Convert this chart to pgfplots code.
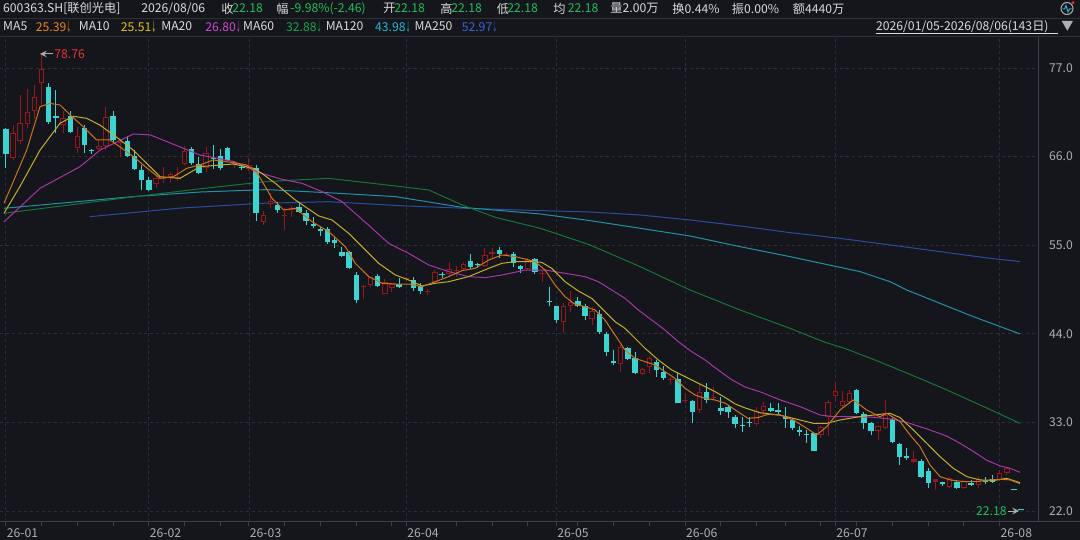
\documentclass[border=0pt]{standalone}
\usepackage{pgfplots}
\pgfplotsset{compat=1.18}
\usepackage{pgfplotstable}
\usepackage{fontspec}
\setmainfont{Noto Sans CJK SC}
\definecolor{bg}{RGB}{20,22,27}
\definecolor{upc}{RGB}{150,24,28}
\definecolor{dnc}{RGB}{60,212,208}
\definecolor{gridc}{RGB}{44,47,55}
\definecolor{axc}{RGB}{62,65,72}
\definecolor{lblc}{RGB}{172,174,178}
\definecolor{txt}{RGB}{218,218,218}
\definecolor{grn}{RGB}{35,190,90}
\definecolor{redt}{RGB}{230,50,50}
\definecolor{ma5}{RGB}{205,115,30}
\definecolor{ma10}{RGB}{195,175,45}
\definecolor{ma20}{RGB}{165,55,165}
\definecolor{ma60}{RGB}{25,115,55}
\definecolor{ma120}{RGB}{35,145,165}
\definecolor{ma250}{RGB}{45,75,160}
\definecolor{ma5t}{RGB}{240,130,30}
\definecolor{ma10t}{RGB}{225,195,30}
\definecolor{ma20t}{RGB}{210,70,210}
\definecolor{ma60t}{RGB}{20,165,80}
\definecolor{ma120t}{RGB}{40,180,210}
\definecolor{ma250t}{RGB}{60,100,215}
\newcommand\hf{\fontsize{6.1pt}{7pt}\selectfont}
\newcommand\dar{\scalebox{0.42}[1]{↓}}

\pgfplotstableread{
i o h l c
1 65.78 69.9 65.6 68.89
2 67.94 73.65 67.6 70.13
3 70.05 74.35 69.5 71.58
4 71.66 74.9 70.63 73.36
5 75.10 78.76 72.4 76.88
8 69.9 71.6 68.9 70.75
10 67.03 69.7 66.4 68.6
13 66.9 68.07 66.8 67.3
14 67.3 72.2 66.8 70.96
16 67.65 68.06 66.0 67.85
21 62.6 63.7 62.1 63.3
22 63.2 64.75 62.7 63.4
23 63.5 64.1 62.7 63.85
24 63.2 64.75 63.0 63.5
25 65.08 67.32 65.0 66.7
28 64.54 67.2 64.1 66.4
32 65.1 65.5 64.6 65.2
34 64.45 65.8 64.2 64.95
36 57.9 59.2 57.5 58.8
37 60.12 61.44 59.58 60.53
39 58.6 59.6 56.9 58.7
40 59.4 59.9 58.5 59.58
50 49.85 50.0 48.3 49.95
51 50.06 51.1 49.8 51.0
53 48.94 50.8 48.9 50.47
54 49.65 50.27 49.2 50.18
56 50.85 51.1 50.7 50.98
59 49.2 49.6 48.8 49.3
60 50.47 51.9 50.4 51.72
62 51.4 52.96 51.2 52.0
63 51.8 52.4 51.1 51.9
64 52.0 52.96 51.8 52.63
67 52.42 54.7 52.3 53.79
68 53.9 54.6 53.4 54.2
70 53.7 54.0 53.6 53.9
73 52.1 53.4 51.9 53.17
75 51.38 51.8 50.47 51.45
78 45.43 47.8 44.06 47.45
79 47.5 49.3 46.7 47.9
82 45.84 47.37 45.1 46.83
86 40.25 42.6 39.2 42.32
89 38.97 39.7 38.9 39.59
90 39.84 41.3 39.1 40.95
93 38.3 38.68 37.6 38.4
95 35.6 36.6 35.4 35.7
97 34.54 37.65 34.13 36.82
99 36.0 37.4 35.6 36.1
105 32.8 34.87 32.56 34.46
106 34.46 35.58 33.92 35.08
114 31.44 32.5 31.1 32.39
115 33.72 35.78 31.31 35.58
116 36.32 38.06 35.58 36.94
117 35.08 36.94 34.9 35.62
118 35.58 37.0 35.3 36.61
122 31.98 32.6 30.82 32.56
123 32.27 35.78 32.2 33.92
127 28.13 29.5 28.0 28.46
130 25.65 26.0 24.6 25.93
132 25.03 26.2 24.9 26.06
134 24.82 25.86 24.7 25.77
136 25.24 26.19 24.82 25.94
139 25.86 27.1 25.7 26.77
140 26.68 27.5 26.5 27.35
}\up

\pgfplotstableread{
i o h l c
0 69.39 69.6 64.55 66.32
6 74.6 75.1 70.1 70.34
7 71.0 74.27 68.9 70.8
9 71.04 71.6 68.9 69.01
11 69.5 69.9 66.4 67.44
12 66.8 67.0 66.3 66.7
15 71.04 71.7 67.85 68.06
17 67.94 68.5 65.9 66.08
18 66.08 66.8 64.3 64.42
19 64.34 64.96 61.9 63.1
20 63.1 63.5 61.7 61.9
26 66.9 67.15 65.0 65.17
27 65.08 66.0 63.8 63.92
29 65.8 67.4 64.4 65.7
30 66.08 67.0 64.3 64.55
31 67.1 67.2 65.4 65.6
33 64.65 65.0 64.3 64.6
35 64.55 64.95 58.0 59.04
38 60.0 60.4 59.0 59.4
41 59.7 60.2 59.0 59.17
42 58.96 59.4 57.5 58.0
43 57.6 58.5 57.1 57.4
44 57.0 57.2 56.1 56.7
45 57.0 57.2 55.2 55.35
46 55.6 56.06 54.6 55.3
47 54.2 54.8 53.5 53.66
48 54.2 54.3 52.1 52.21
49 51.3 51.7 47.87 48.2
52 51.18 51.4 49.8 49.97
55 50.18 50.9 49.7 49.85
57 50.68 51.1 49.35 49.65
58 49.98 50.27 49.0 49.3
61 51.35 51.7 50.9 51.25
65 53.08 53.9 52.0 52.33
66 52.6 52.75 52.2 52.5
69 54.4 54.8 53.37 53.9
71 53.9 54.2 52.3 52.83
72 52.4 52.5 51.6 52.0
74 53.29 53.45 51.4 51.72
76 48.0 49.85 47.5 47.9
77 47.45 47.5 45.4 45.7
80 48.07 48.6 47.3 47.45
81 47.45 47.66 45.7 46.25
83 46.46 46.96 44.0 44.18
84 43.93 44.27 41.2 41.7
85 40.67 41.99 40.1 40.33
87 42.28 42.4 40.7 40.87
88 40.95 41.8 38.97 39.17
91 40.54 40.75 38.68 39.51
92 39.3 40.0 38.27 38.56
94 38.39 39.22 35.37 35.45
96 35.66 35.8 32.9 34.33
98 36.82 37.85 35.37 35.78
100 34.75 36.2 33.9 34.45
101 34.9 35.0 33.6 34.3
102 33.7 33.9 32.27 32.76
103 32.7 33.7 31.85 32.6
104 33.1 33.63 32.47 32.89
107 34.75 35.37 34.3 34.46
108 34.54 35.37 33.92 34.25
109 33.7 34.96 32.27 33.43
110 33.3 33.5 32.0 32.27
111 32.06 32.56 31.31 31.77
112 31.6 32.06 30.49 31.5
113 31.73 31.8 29.4 29.45
119 37.03 37.1 34.0 34.13
120 34.0 34.34 32.18 32.89
121 32.89 33.1 31.44 31.98
124 33.38 33.5 30.5 30.61
125 30.32 30.4 27.7 28.75
126 28.84 29.8 28.3 28.55
128 28.25 28.4 26.1 26.27
129 27.0 27.3 24.8 25.52
131 25.57 25.65 25.1 25.32
133 25.65 25.86 24.7 24.82
135 25.44 25.86 25.1 25.24
137 25.7 26.27 25.4 25.6
138 25.98 26.5 25.5 25.65
141 24.64 24.64 24.64 24.64
142 22.18 22.18 22.18 22.18
}\dn

\pgfplotsset{
  nomark/.style={only marks, mark=*, mark size=0pt, mark options={draw opacity=0, fill opacity=0}},
  wick/.style={nomark, error bars/.cd, y dir=plus, y explicit, error mark=none,
    error bar style={line width=0.5pt, line cap=butt, solid, opacity=1}, /pgfplots/.cd},
  body/.style={nomark, error bars/.cd, y dir=plus, y explicit, error mark=none,
    error bar style={line width=2.7pt, line cap=butt, solid, opacity=1}, /pgfplots/.cd},
  inner/.style={nomark, error bars/.cd, y dir=plus, y explicit, error mark=none,
    error bar style={line width=1.7pt, line cap=butt, solid, opacity=1}, /pgfplots/.cd},
}

\begin{document}
\begin{tikzpicture}
\path[use as bounding box] (0,0) rectangle (540pt,-270pt);
\fill[bg] (0,0) rectangle (540pt,-270pt);

\begin{axis}[
  at={(0pt,-260.85pt)}, anchor=south west,
  width=519pt, height=242.85pt, scale only axis,
  xmin=0, xmax=1038, ymin=20.67, ymax=80.97,
  axis x line*=bottom, axis y line*=right,
  axis line style={draw=axc, line width=0.5pt},
  ytick={22,33,44,55,66,77},
  ytick style={draw=none},
  ymajorgrids,
  grid style={gridc, dash pattern=on 1.5pt off 1.5pt, line width=0.4pt},
  /pgf/number format/fixed, /pgf/number format/fixed zerofill,
  /pgf/number format/precision=1, /pgf/number format/assume math mode=true,
  yticklabel style={font=\hf, text=lblc},
  xtick={5.85,41.6,77.35,113.1,148.85,184.6,220.35,248.95,284.7,320.45,356.2,391.95,406.25,456.3,492.05,527.8,556.4,577.85,613.6,649.35,685.1,720.85,756.6,785.2,820.95,835.25,856.7,892.45,928.2,963.95,999.7},
  xticklabels={26-01,,,,26-02,,,26-03,,,,,26-04,,,,26-05,,,,26-06,,,,,26-07,,,,,26-08},
  tick align=outside, major tick length=2pt,
  xtick style={draw=axc, line width=0.5pt},
  xticklabel style={font=\hf, text=lblc, anchor=north west, inner sep=0pt, yshift=-1.5pt, xshift=0.3pt},
  extra x ticks={5.85,148.85,248.95,406.25,556.4,685.1,835.25,999.7},
  extra x tick labels={,,,,,,,},
  extra x tick style={grid=major, major tick length=0pt},
]
% long MAs
\addplot[ma250, line width=0.5pt] coordinates {(90,58.54) (180,59.6) (262,60.2) (328.7,60.4) (405.3,59.87) (462,59.6) (540,59.29) (590,59.12) (640,58.75) (690,58.13) (740,57.39) (790,56.56) (840,55.85) (890,55.03) (940,54.2) (990,53.37) (1020,52.97)};
\addplot[ma120, line width=0.5pt] coordinates {(4,59.58) (133.3,61.03) (200,61.6) (266.7,61.9) (330,61.5) (395.3,61.03) (462,59.7) (540,58.88) (590,58.05) (640,57.1) (690,56.14) (740,54.82) (790,53.58) (840,52.25) (860,51.72) (890,50.47) (906.7,49.44) (940,47.78) (973.3,46.13) (1020,43.98)};
\addplot[ma60, line width=0.5pt] coordinates {(4,58.96) (70,60.0) (133.3,61.0) (200,62.0) (266.7,62.9) (328.7,63.3) (395.3,62.35) (428.7,61.85) (462,60.0) (495.3,58.46) (540,57.1) (590,55.03) (640,52.34) (690,49.44) (740,46.96) (790,44.68) (823.3,43.02) (846.7,42.1) (880,40.5) (923.3,38.27) (946.7,37.03) (980,35.17) (1020,32.88)};
% candles: wicks
\addplot[color=dnc, wick] table[x expr=5.85+7.15*\thisrow{i}, y=l, y error plus expr=\thisrow{h}-\thisrow{l}] {\dn};
\addplot[color=upc, wick] table[x expr=5.85+7.15*\thisrow{i}, y=l, y error plus expr=\thisrow{h}-\thisrow{l}] {\up};
% bodies
\addplot[color=dnc, body] table[x expr=5.85+7.15*\thisrow{i}, y expr={min(\thisrow{o},\thisrow{c})}, y error plus expr={max(abs(\thisrow{c}-\thisrow{o}),0.12)}] {\dn};
\addplot[color=upc, body] table[x expr=5.85+7.15*\thisrow{i}, y expr={min(\thisrow{o},\thisrow{c})}, y error plus expr={max(abs(\thisrow{c}-\thisrow{o}),0.12)}] {\up};
\addplot[color=bg, restrict expr to domain={abs(\thisrow{c}-\thisrow{o})}{0.35:100}, inner] table[x expr=5.85+7.15*\thisrow{i}, y expr={min(\thisrow{o},\thisrow{c})+0.124}, y error plus expr={abs(\thisrow{c}-\thisrow{o})-0.248}] {\up};
% short MAs
\addplot[ma20, line width=0.5pt] coordinates {(4,57.9) (40,62.06) (80,64.75) (100,66.8) (133.3,68.8) (150,68.7) (180,67.2) (200,66.2) (233.3,65.4) (262,63.9) (282,63.18) (302,62.68) (322,61.65) (342,60.4) (362,58.21) (388.7,55.23) (408.7,53.99) (428.7,52.54) (448.7,51.72) (468.7,51.1) (485.3,50.97) (502,51.3) (525,51.9) (545,51.92) (565,51.51) (585,51.1) (598.3,50.47) (611.7,49.44) (625,48.4) (638.3,46.96) (651.7,45.71) (665,44.47) (678.3,43.02) (691.7,41.78) (705,40.75) (718.3,39.5) (731.7,38.3) (745,37.4) (760,36.8) (780,35.8) (800,34.96) (820,33.92) (833.3,33.72) (853.3,33.72) (873.3,33.63) (893.3,33.38) (906.7,33.0) (926.7,32.2) (946.7,31.3) (960,30.4) (973.3,29.4) (986.7,28.3) (1000,27.6) (1010,27.3) (1020,26.8)};
\addplot[ma10, line width=0.5pt] coordinates {(4,58.96) (20,62.3) (40,66.8) (60,70.13) (73.3,71.0) (86.7,70.75) (100,69.9) (116.7,68.4) (133.3,66.8) (150,64.75) (160,63.5) (180,63.3) (200,64.75) (233.3,65.08) (253.3,64.55) (262,63.9) (275.3,62.68) (295.3,60.61) (318.7,58.63) (332,58.13) (348.7,56.47) (362,54.82) (378.7,52.75) (395.3,51.3) (408.7,50.68) (422,49.94) (435.3,50.27) (448.7,50.47) (468.7,51.1) (488.7,52.13) (502,52.75) (515.3,52.96) (532,52.96) (541.7,52.87) (551.7,52.13) (565,50.47) (578.3,49.32) (591.7,48.4) (605,46.75) (615,45.5) (625,44.68) (635,43.44) (645,42.2) (658.3,40.75) (671.7,39.51) (685,38.68) (695,38.06) (705,37.44) (715,36.82) (725,36.1) (735,35.3) (745,34.8) (760,34.2) (780,33.9) (800,33.3) (813.3,32.89) (826.7,32.89) (840,33.3) (860,33.72) (880,34.0) (890,34.13) (900,33.6) (913.3,32.06) (926.7,30.41) (940,28.75) (953.3,27.3) (966.7,26.27) (980,25.86) (993.3,25.77) (1006.7,26.06) (1020,25.51)};
\addplot[ma5, line width=0.5pt] coordinates {(4,60.2) (26.7,66.8) (40,72.2) (50,72.6) (60,72.4) (70,71.2) (83.3,69.7) (96.7,68.06) (110,68.06) (120,67.2) (133.3,66.0) (146.7,64.6) (160,63.3) (173.3,63.5) (186.7,64.54) (200,64.96) (213.3,65.58) (233.3,65.25) (246.7,64.96) (258,63.8) (272,60.82) (283.7,59.37) (295.3,59.58) (312,57.92) (328.7,56.68) (345.3,54.82) (355.3,52.75) (368.7,51.1) (382,50.27) (395.3,50.18) (408.7,50.18) (422,49.85) (435.3,50.47) (448.7,51.1) (462,51.84) (475.3,52.13) (488.7,53.16) (502,53.78) (515.3,53.58) (528.7,53.17) (535,52.96) (545,51.92) (555,50.06) (565,48.61) (575,47.66) (585,47.37) (595,46.96) (605,45.71) (615,43.85) (625,41.99) (635,40.96) (645,40.54) (655,40.13) (665,39.3) (675,38.47) (685,37.23) (695,36.4) (705,35.99) (715,35.78) (725,35.4) (737,34.4) (748,33.5) (758,33.6) (768,34.0) (780,33.92) (793.3,33.3) (806.7,32.27) (816.7,31.44) (826.7,32.47) (840,34.54) (853.3,35.78) (866.7,34.54) (880,33.7) (886.7,34.13) (900,33.1) (910,31.44) (920,29.99) (930,27.72) (940,26.27) (950,25.86) (963.3,25.65) (976.7,25.65) (990,25.86) (1000,25.94) (1010,25.86) (1020,25.39)};
\end{axis}

\begin{scope}[x=0.5pt,y=-0.5pt]
\draw[axc!60!bg, line width=0.4pt] (0,18) -- (1080,18);
\draw[axc!60!bg, line width=0.4pt] (0,36) -- (1080,36);
\draw[axc, line width=0.5pt] (1038,521.7) -- (1080,521.7);
\begin{scope}[every node/.style={inner sep=0pt, anchor=west, font=\hf, text=txt}]
\node at (2.8,8.5) {600363.SH[联创光电]};
\node at (141,8.5) {2026/08/06};
\node at (221,8.5) {收}; \node[text=grn] at (232,8.5) {22.18};
\node at (276,8.5) {幅}; \node[text=grn] at (290,8.5) {-9.98\%(-2.46)};
\node at (383,8.5) {开}; \node[text=grn] at (394,8.5) {22.18};
\node at (440,8.5) {高}; \node[text=grn] at (451,8.5) {22.18};
\node at (496.5,8.5) {低}; \node[text=grn] at (507,8.5) {22.18};
\node at (553,8.5) {均}; \node[text=grn] at (567.5,8.5) {22.18};
\node at (610,8.5) {量2.00万};
\node at (672,8.5) {换0.44\%};
\node at (731.5,8.5) {振0.00\%};
\node at (792.5,8.5) {额4440万};
\node at (2.8,26.5) {MA5}; \node[text=ma5t] at (35.5,26.5) {25.39\dar};
\node at (78.5,26.5) {MA10}; \node[text=ma10t] at (120.5,26.5) {25.51\dar};
\node at (161,26.5) {MA20}; \node[text=ma20t] at (205,26.5) {26.80\dar};
\node at (242.8,26.5) {MA60}; \node[text=ma60t] at (285.8,26.5) {32.88\dar};
\node at (325.4,26.5) {MA120}; \node[text=ma120t] at (374.7,26.5) {43.98\dar};
\node at (414.3,26.5) {MA250}; \node[text=ma250t] at (461.4,26.5) {52.97\dar};
\node[text=txt] at (875.7,26.5) {2026/01/05-2026/08/06(143日)};
\node[text=lblc] at (1061,26.5) {▼};
\node[text=redt] at (54,54) {78.76};
\node[text=grn, anchor=east] at (1007,511) {22.18};
\end{scope}
\draw[txt, line width=0.3pt] (875.7,33.5) -- (1058,33.5);
\draw[lblc, line width=0.5pt, ->, >=stealth] (53,54) -- (40,54);
\draw[lblc, line width=0.5pt, ->, >=stealth] (1008,511) -- (1019,511);
\draw[lblc, line width=0.5pt] (1067,8.5) circle (6);
\draw[ma120t, line width=0.5pt] (1062.5,9) -- (1064.5,9) -- (1066,5.5) -- (1068,12) -- (1069.5,9) -- (1071.5,9);
\fill[redt] (1073,2.8) circle (1.6);
\end{scope}
\end{tikzpicture}
\end{document}
